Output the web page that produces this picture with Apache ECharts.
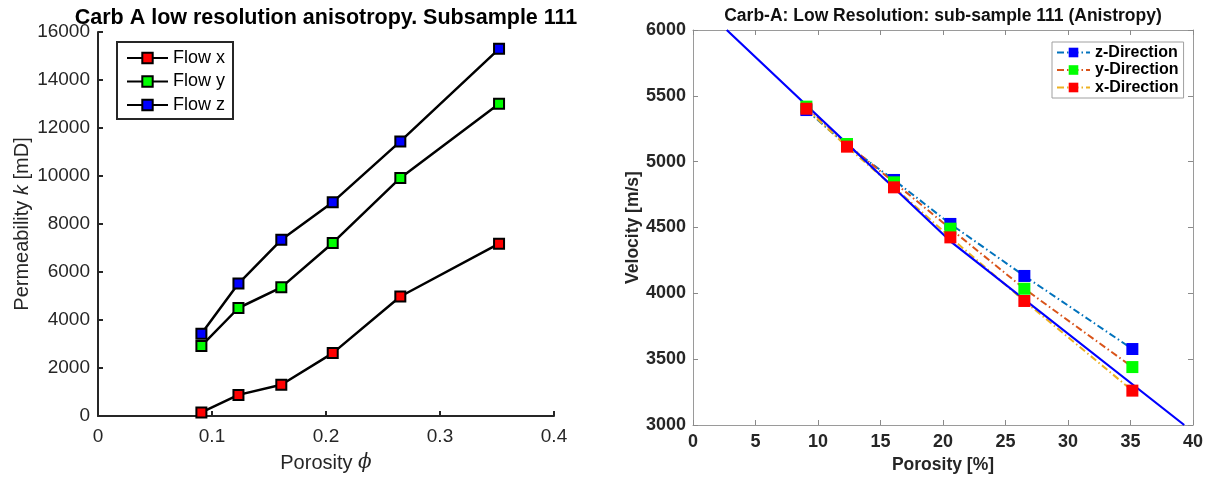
<!DOCTYPE html>
<html>
<head>
<meta charset="utf-8">
<script src="https://cdn.jsdelivr.net/npm/echarts@6/dist/echarts.min.js"></script>
<style>
html,body{margin:0;padding:0;background:#fff;}
#c{width:1206px;height:479px;}
</style>
</head>
<body>
<div id="c"></div>
<script>
// ---------- Left chart data (permeability vs porosity) ----------
const porosityFrac = [0.0907, 0.1232, 0.1608, 0.2059, 0.2652, 0.3518];
const flowX = [150, 880, 1300, 2620, 4980, 7180];
const flowY = [2920, 4500, 5360, 7210, 9920, 13010];
const flowZ = [3430, 5520, 7340, 8910, 11440, 15300];
const leftXTicks = [0, 0.1, 0.2, 0.3, 0.4];
const leftYTicks = [0, 2000, 4000, 6000, 8000, 10000, 12000, 14000, 16000];

// ---------- Right chart data (velocity vs porosity) ----------
const porosityPct = [9.07, 12.32, 16.08, 20.59, 26.51, 35.15];
const velZ = [5392, 5122, 4861, 4527, 4132, 3577];
const velY = [5418, 5134, 4843, 4491, 4035, 3440];
const velX = [5402, 5114, 4805, 4425, 3942, 3261];
const trendPorosity = [2.7, 20.6, 39.3];
const trendVel = [6000, 4395, 3000];
const rightXTicks = [0, 5, 10, 15, 20, 25, 30, 35, 40];
const rightYTicks = [3000, 3500, 4000, 4500, 5000, 5500, 6000];

const FONT = '"Liberation Sans", Arial, Helvetica, sans-serif';
const pairs = (xs, ys) => xs.map((x, i) => [x, ys[i]]);
const tickStep = t => t[1] - t[0];
const plain = v => String(Math.round(v * 1000) / 1000);

const chart = echarts.init(document.getElementById('c'), null, {renderer: 'canvas'});

const leftAxisCommon = {
  type: 'value',
  splitLine: {show: false},
  axisLine: {show: true, onZero: false, lineStyle: {color: '#262626', width: 2}},
  axisTick: {show: true, inside: true, length: 5, lineStyle: {color: '#262626', width: 2}},
  axisLabel: {color: '#262626', fontSize: 19, fontFamily: FONT, formatter: plain}
};
const rightAxisCommon = {
  type: 'value',
  splitLine: {show: false},
  axisLine: {show: true, onZero: false, lineStyle: {color: '#9a9a9a', width: 1}},
  axisTick: {show: true, inside: true, length: 5, lineStyle: {color: '#8a8a8a', width: 1}},
  axisLabel: {color: '#262626', fontSize: 18, fontWeight: 'bold', fontFamily: FONT, formatter: plain}
};

const option = {
  animation: false,
  backgroundColor: '#fff',
  title: [
    {
      text: 'Carb A low resolution anisotropy. Subsample 111',
      left: 326, top: 7, textAlign: 'center', padding: 0,
      textStyle: {fontFamily: FONT, fontSize: 21.5, fontWeight: 'bold', color: '#000'}
    },
    {
      text: 'Carb-A: Low Resolution: sub-sample 111 (Anistropy)',
      left: 943, top: 7, textAlign: 'center', padding: 0,
      textStyle: {fontFamily: FONT, fontSize: 17.5, fontWeight: 'bold', color: '#111'}
    }
  ],
  grid: [
    {left: 98, top: 32, width: 456, height: 384},
    {left: 693, top: 30, width: 500, height: 395}
  ],
  legend: [
    {
      data: ['Flow x', 'Flow y', 'Flow z'],
      left: 117, top: 42, orient: 'vertical',
      itemWidth: 41, itemHeight: 13, itemGap: 3.5,
      padding: [6, 8, 4, 9],
      borderColor: '#262626', borderWidth: 2, backgroundColor: '#fff',
      selectedMode: false,
      textStyle: {fontFamily: FONT, fontSize: 18, color: '#000', lineHeight: 20}
    },
    {
      data: ['z-Direction', 'y-Direction', 'x-Direction'],
      left: 1052, top: 42, orient: 'vertical',
      itemWidth: 33, itemHeight: 12, itemGap: 0.5,
      padding: [2, 5, 2, 4],
      borderColor: '#a0a0a0', borderWidth: 1, backgroundColor: '#fff',
      selectedMode: false,
      textStyle: {fontFamily: FONT, fontSize: 16, fontWeight: 'bold', color: '#000', lineHeight: 17}
    }
  ],
  xAxis: [
    Object.assign({}, leftAxisCommon, {
      gridIndex: 0, min: leftXTicks[0], max: leftXTicks[leftXTicks.length - 1], interval: tickStep(leftXTicks),
      position: 'bottom',
      axisLabel: Object.assign({}, leftAxisCommon.axisLabel, {margin: 11}),
      name: 'Porosity {p|ϕ}', nameLocation: 'middle', nameGap: 37,
      nameTextStyle: {fontFamily: FONT, fontSize: 20, color: '#262626',
        rich: {p: {fontFamily: '"DejaVu Serif", "Liberation Serif", serif', fontStyle: 'italic', fontSize: 20, color: '#262626'}}}
    }),
    Object.assign({}, rightAxisCommon, {
      gridIndex: 1, min: rightXTicks[0], max: rightXTicks[rightXTicks.length - 1], interval: tickStep(rightXTicks),
      position: 'bottom',
      axisLabel: Object.assign({}, rightAxisCommon.axisLabel, {margin: 8}),
      name: 'Porosity [%]', nameLocation: 'middle', nameGap: 27,
      nameTextStyle: {fontFamily: FONT, fontSize: 17.5, fontWeight: 'bold', color: '#262626'}
    }),
    Object.assign({}, rightAxisCommon, {
      gridIndex: 1, min: rightXTicks[0], max: rightXTicks[rightXTicks.length - 1], interval: tickStep(rightXTicks),
      position: 'top', axisLabel: {show: false}
    })
  ],
  yAxis: [
    Object.assign({}, leftAxisCommon, {
      gridIndex: 0, min: leftYTicks[0], max: leftYTicks[leftYTicks.length - 1], interval: tickStep(leftYTicks),
      position: 'left',
      axisLabel: Object.assign({}, leftAxisCommon.axisLabel, {margin: 8}),
      name: 'Permeability {i|k} [mD]', nameLocation: 'middle', nameGap: 66, nameRotate: 90,
      nameTextStyle: {fontFamily: FONT, fontSize: 20, color: '#262626',
        rich: {i: {fontFamily: FONT, fontStyle: 'italic', fontSize: 20, color: '#262626'}}}
    }),
    Object.assign({}, rightAxisCommon, {
      gridIndex: 1, min: rightYTicks[0], max: rightYTicks[rightYTicks.length - 1], interval: tickStep(rightYTicks),
      position: 'left',
      axisLabel: Object.assign({}, rightAxisCommon.axisLabel, {margin: 7}),
      name: 'Velocity [m/s]', nameLocation: 'middle', nameGap: 35, nameRotate: 90,
      nameTextStyle: {fontFamily: FONT, fontSize: 17.5, fontWeight: 'bold', color: '#262626'}
    }),
    Object.assign({}, rightAxisCommon, {
      gridIndex: 1, min: rightYTicks[0], max: rightYTicks[rightYTicks.length - 1], interval: tickStep(rightYTicks),
      position: 'right', axisLabel: {show: false}
    })
  ],
  series: [
    {
      name: 'Flow x', type: 'line', xAxisIndex: 0, yAxisIndex: 0,
      data: pairs(porosityFrac, flowX),
      symbol: 'rect', symbolSize: 10,
      lineStyle: {color: '#000', width: 2.5},
      itemStyle: {color: '#ff0000', borderColor: '#000', borderWidth: 2}
    },
    {
      name: 'Flow y', type: 'line', xAxisIndex: 0, yAxisIndex: 0,
      data: pairs(porosityFrac, flowY),
      symbol: 'rect', symbolSize: 10,
      lineStyle: {color: '#000', width: 2.5},
      itemStyle: {color: '#00ff00', borderColor: '#000', borderWidth: 2}
    },
    {
      name: 'Flow z', type: 'line', xAxisIndex: 0, yAxisIndex: 0,
      data: pairs(porosityFrac, flowZ),
      symbol: 'rect', symbolSize: 10,
      lineStyle: {color: '#000', width: 2.5},
      itemStyle: {color: '#0000ff', borderColor: '#000', borderWidth: 2}
    },
    {
      name: 'z-Direction', type: 'line', xAxisIndex: 1, yAxisIndex: 1,
      data: pairs(porosityPct, velZ),
      symbol: 'rect', symbolSize: 12,
      lineStyle: {color: '#0072BD', width: 2, type: [7, 3, 1.5, 3]},
      itemStyle: {color: '#0000ff'}
    },
    {
      name: 'y-Direction', type: 'line', xAxisIndex: 1, yAxisIndex: 1,
      data: pairs(porosityPct, velY),
      symbol: 'rect', symbolSize: 12,
      lineStyle: {color: '#D95319', width: 2, type: [7, 3, 1.5, 3]},
      itemStyle: {color: '#00ff00'}
    },
    {
      name: 'x-Direction', type: 'line', xAxisIndex: 1, yAxisIndex: 1,
      data: pairs(porosityPct, velX),
      symbol: 'rect', symbolSize: 12,
      lineStyle: {color: '#EDB120', width: 2, type: [7, 3, 1.5, 3]},
      itemStyle: {color: '#ff0000'}
    },
    {
      name: 'trend', type: 'line', xAxisIndex: 1, yAxisIndex: 1,
      data: pairs(trendPorosity, trendVel),
      symbol: 'none', silent: true,
      lineStyle: {color: '#0000ff', width: 2.2}
    }
  ]
};
chart.setOption(option);
</script>
</body>
</html>
